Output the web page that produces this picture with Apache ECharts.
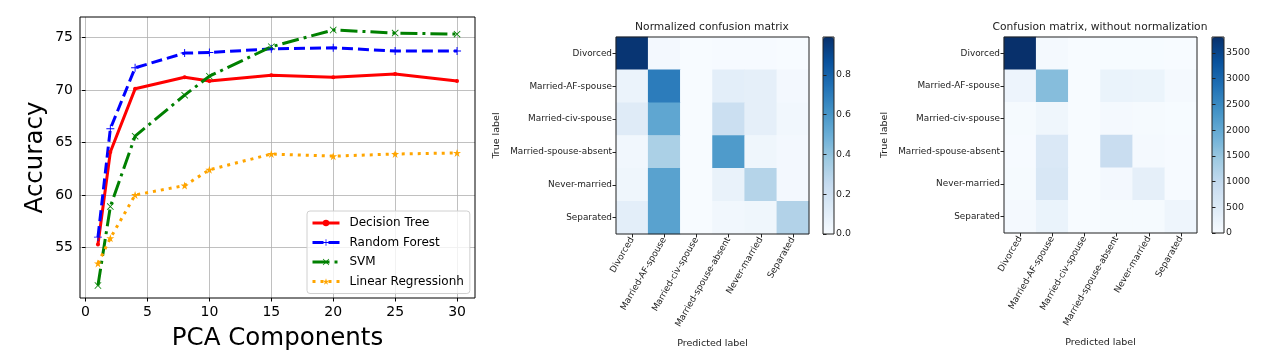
<!DOCTYPE html>
<html><head><meta charset="utf-8">
<script src="https://cdn.jsdelivr.net/npm/echarts@6/dist/echarts.min.js"></script>
<style>html,body{margin:0;padding:0;background:#fff}#c{width:1265px;height:362px}</style>
</head><body><div id="c"></div>
<script>
// ---- Line chart data ----
const pcaComponents = [1, 2, 4, 8, 10, 15, 20, 25, 30];
const decisionTree = [55.3, 64.1, 70.1, 71.2, 70.85, 71.4, 71.2, 71.5, 70.85];
const randomForest = [56.0, 66.3, 72.1, 73.5, 73.55, 73.9, 74.0, 73.7, 73.7];
const svm = [51.4, 58.9, 65.6, 69.5, 71.3, 74.1, 75.7, 75.4, 75.3];
const linearRegression = [53.5, 55.9, 60.0, 60.9, 62.4, 63.9, 63.7, 63.9, 64.0];
const xTicks = [0, 5, 10, 15, 20, 25, 30];
const yTicks = [55, 60, 65, 70, 75];

// ---- Confusion matrices ----
const classLabels = ['Divorced', 'Married-AF-spouse', 'Married-civ-spouse', 'Married-spouse-absent', 'Never-married', 'Separated'];
const normalizedMatrix = [
  [0.97, 0.02, 0.0, 0.005, 0.005, 0.0],
  [0.06, 0.70, 0.0, 0.10, 0.09, 0.02],
  [0.12, 0.53, 0.0, 0.22, 0.09, 0.03],
  [0.03, 0.33, 0.0, 0.58, 0.04, 0.02],
  [0.04, 0.55, 0.0, 0.07, 0.30, 0.02],
  [0.10, 0.55, 0.0, 0.03, 0.04, 0.31]
];
const rawMatrix = [
  [3810, 60, 0, 10, 10, 5],
  [200, 1650, 0, 250, 220, 50],
  [40, 150, 0, 60, 30, 10],
  [20, 560, 0, 900, 60, 20],
  [30, 600, 0, 80, 350, 20],
  [50, 250, 0, 30, 40, 180]
];
const normTicks = [0, 0.2, 0.4, 0.6, 0.8];
const rawTicks = [0, 500, 1000, 1500, 2000, 2500, 3000, 3500];

const blues = ['#f7fbff','#deebf7','#c6dbef','#9ecae1','#6baed6','#4292c6','#2171b5','#08519c','#08306b'];
const FONT = 'DejaVu Sans';

function toCells(m) {
  const out = [];
  m.forEach((row, r) => row.forEach((v, c) => out.push([c, r, v])));
  return out;
}
const pts = arr => pcaComponents.map((x, i) => [x, arr[i]]);

const plusSym = 'path://M4.4,0h1.2v4.4h4.4v1.2h-4.4v4.4h-1.2v-4.4h-4.4v-1.2h4.4z';
const xSym = 'path://M0.8,0L5,4.2L9.2,0L10,0.8L5.8,5L10,9.2L9.2,10L5,5.8L0.8,10L0,9.2L4.2,5L0,0.8Z';
const starSym = 'path://M5,0L6.2,3.6L10,3.6L6.9,5.8L8.1,9.5L5,7.2L1.9,9.5L3.1,5.8L0,3.6L3.8,3.6Z';

const dashRF = [11, 5];
const dashSVM = [17, 5, 3, 5];
const dashLR = [3, 5];

const heatX = (gi) => ({
  type: 'category', gridIndex: gi, data: classLabels, z: 10,
  axisLine: { show: false },
  axisTick: { show: true, alignWithLabel: true, length: 3.5, lineStyle: { color: '#222' } },
  axisLabel: { rotate: 60, fontSize: 8.9, color: '#222', fontFamily: FONT, margin: 4, interval: 0 },
  splitLine: { show: false },
  name: 'Predicted label', nameLocation: 'middle', nameGap: 105, nameMoveOverlap: false,
  nameTextStyle: { fontSize: 9.5, color: '#222', fontFamily: FONT, verticalAlign: 'top' }
});
const heatY = (gi) => ({
  type: 'category', gridIndex: gi, data: classLabels, inverse: true, z: 10,
  axisLine: { show: false },
  axisTick: { show: true, alignWithLabel: true, length: 3.5, lineStyle: { color: '#222' } },
  axisLabel: { fontSize: 8.9, color: '#222', fontFamily: FONT, margin: 4, interval: 0 },
  splitLine: { show: false },
  name: 'True label', nameLocation: 'middle', nameGap: 114, nameMoveOverlap: false,
  nameTextStyle: { fontSize: 9.5, color: '#222', fontFamily: FONT }
});
const cbX = (gi) => ({ type: 'value', gridIndex: gi, show: false, min: 0, max: 1 });
const cbY = (gi, max, ticks, fmt) => ({
  type: 'value', gridIndex: gi, position: 'right', min: 0, max: max, z: 10,
  axisLine: { show: false },
  axisTick: { show: true, length: 3.5, lineStyle: { color: '#222' }, customValues: ticks },
  axisLabel: { fontSize: 9.4, color: '#222', fontFamily: FONT, margin: 2, customValues: ticks, formatter: fmt },
  splitLine: { show: false }
});

const option = {
  animation: false,
  textStyle: { fontFamily: FONT },
  title: [
    { text: 'Normalized confusion matrix', left: 712, top: 22, textAlign: 'center', padding: 0,
      textStyle: { fontSize: 10.7, fontWeight: 'normal', color: '#222', fontFamily: FONT } },
    { text: 'Confusion matrix, without normalization', left: 1100, top: 22, textAlign: 'center', padding: 0,
      textStyle: { fontSize: 10.7, fontWeight: 'normal', color: '#222', fontFamily: FONT } }
  ],
  grid: [
    { left: 80, top: 17, width: 395, height: 281, show: true, borderColor: '#000', borderWidth: 1, backgroundColor: 'transparent', z: 10 },
    { left: 616, top: 37, width: 193, height: 197, show: true, borderColor: '#222', borderWidth: 1, backgroundColor: 'transparent', z: 10 },
    { left: 823, top: 37, width: 11, height: 197, show: true, borderColor: '#222', borderWidth: 1, backgroundColor: 'transparent', z: 10 },
    { left: 1004, top: 37, width: 193, height: 196, show: true, borderColor: '#222', borderWidth: 1, backgroundColor: 'transparent', z: 10 },
    { left: 1212, top: 37, width: 12, height: 196, show: true, borderColor: '#222', borderWidth: 1, backgroundColor: 'transparent', z: 10 }
  ],
  xAxis: [
    { type: 'value', gridIndex: 0, min: -0.45, max: 31.45,
      axisLine: { show: false },
      axisTick: { show: true, length: 3.5, lineStyle: { color: '#000' }, customValues: xTicks },
      axisLabel: { fontSize: 14, color: '#000', fontFamily: FONT, margin: 7, customValues: xTicks },
      splitLine: { show: true, lineStyle: { color: '#b0b0b0', width: 0.8 }, customValues: xTicks },
      name: 'PCA Components', nameLocation: 'middle', nameGap: 28, nameMoveOverlap: false,
      nameTextStyle: { fontSize: 24.5, color: '#000', fontFamily: FONT, verticalAlign: 'top' } },
    heatX(1), cbX(2), heatX(3), cbX(4)
  ],
  yAxis: [
    { type: 'value', gridIndex: 0, min: 50.21, max: 76.93,
      axisLine: { show: false },
      axisTick: { show: true, length: 3.5, lineStyle: { color: '#000' }, customValues: yTicks },
      axisLabel: { fontSize: 14, color: '#000', fontFamily: FONT, margin: 7, customValues: yTicks },
      splitLine: { show: true, lineStyle: { color: '#b0b0b0', width: 0.8 }, customValues: yTicks },
      name: 'Accuracy', nameLocation: 'middle', nameGap: 32, nameMoveOverlap: false,
      nameTextStyle: { fontSize: 24.5, color: '#000', fontFamily: FONT } },
    heatY(1), cbY(2, 0.99, normTicks, v => v.toFixed(1)), heatY(3), cbY(4, 3810, rawTicks, v => String(v))
  ],
  visualMap: [
    { type: 'continuous', seriesIndex: 4, min: 0, max: 0.99, calculable: false, text: null,
      left: 823, top: 37, itemWidth: 11, itemHeight: 197, padding: 0, showLabel: false,
      inRange: { color: blues } },
    { type: 'continuous', seriesIndex: 5, min: 0, max: 3810, calculable: false, text: null,
      left: 1212, top: 37, itemWidth: 12, itemHeight: 196, padding: 0, showLabel: false,
      inRange: { color: blues } }
  ],
  legend: {
    left: 307, top: 211, orient: 'vertical', itemGap: 5.5, itemWidth: 27, itemHeight: 8,
    padding: [5, 6, 5, 4], backgroundColor: 'rgba(255,255,255,0.8)', borderColor: '#d0d0d0', borderWidth: 1, borderRadius: 3,
    textStyle: { fontSize: 12, color: '#000', fontFamily: FONT, padding: [0, 0, 0, 5], lineHeight: 14 },
    data: [
      { name: 'Decision Tree', lineStyle: { width: 3, type: 'solid' } },
      { name: 'Random Forest', lineStyle: { width: 3, type: dashRF } },
      { name: 'SVM', lineStyle: { width: 3, type: dashSVM } },
      { name: 'Linear Regressionh', lineStyle: { width: 3, type: dashLR } }
    ]
  },
  series: [
    { name: 'Decision Tree', type: 'line', xAxisIndex: 0, yAxisIndex: 0, data: pts(decisionTree),
      symbol: 'circle', symbolSize: 4, color: '#ff0000', lineStyle: { width: 3, color: '#ff0000' }, z: 3 },
    { name: 'Random Forest', type: 'line', xAxisIndex: 0, yAxisIndex: 0, data: pts(randomForest),
      symbol: plusSym, symbolSize: 8, color: '#0000ff', lineStyle: { width: 3, color: '#0000ff', type: dashRF }, z: 3 },
    { name: 'SVM', type: 'line', xAxisIndex: 0, yAxisIndex: 0, data: pts(svm),
      symbol: xSym, symbolSize: 7, color: '#008000', lineStyle: { width: 3, color: '#008000', type: dashSVM }, z: 3 },
    { name: 'Linear Regressionh', type: 'line', xAxisIndex: 0, yAxisIndex: 0, data: pts(linearRegression),
      symbol: starSym, symbolSize: 8, color: '#ffa500', lineStyle: { width: 3, color: '#ffa500', type: dashLR }, z: 3 },
    { name: 'normalized', type: 'heatmap', xAxisIndex: 1, yAxisIndex: 1, data: toCells(normalizedMatrix) },
    { name: 'raw', type: 'heatmap', xAxisIndex: 3, yAxisIndex: 3, data: toCells(rawMatrix) }
  ]
};
echarts.init(document.getElementById('c'), null, { renderer: 'canvas' }).setOption(option);
</script></body></html>
